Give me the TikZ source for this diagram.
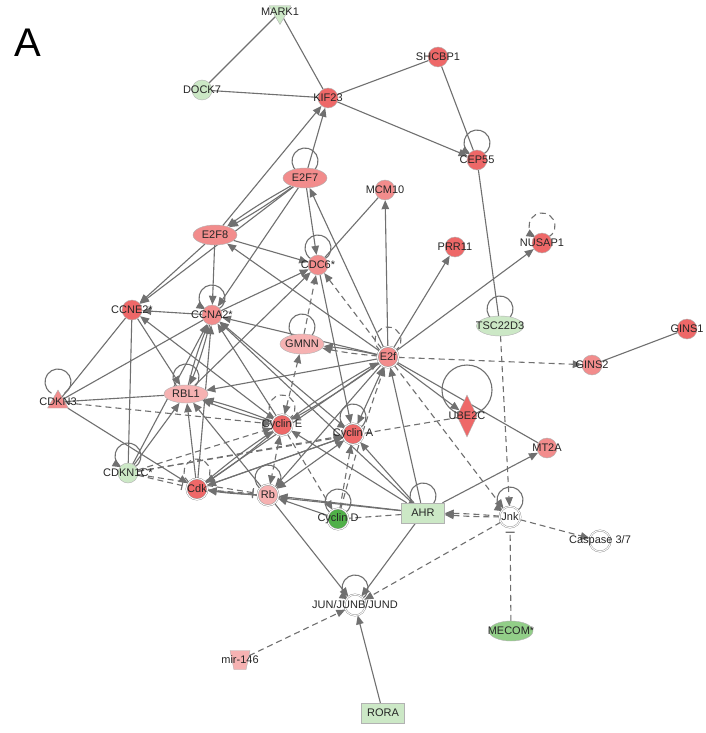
\documentclass[tikz,border=0pt]{standalone}
\usepackage{fontspec}
\setmainfont{Liberation Sans}
\usetikzlibrary{arrows.meta,shapes.geometric,backgrounds}
\definecolor{rouge}{RGB}{238,104,104}
\definecolor{rougeclair}{RGB}{242,140,140}
\definecolor{rose}{RGB}{246,178,178}
\definecolor{vertpale}{RGB}{204,232,198}
\definecolor{vertmoy}{RGB}{146,206,136}
\definecolor{vertfonce}{RGB}{80,176,72}
\definecolor{trait}{RGB}{112,112,112}

\tikzset{
 noeud/.style={draw=black!30, line width=0.4pt, inner sep=0pt},
 rond/.style={noeud, circle, minimum size=20pt},
 rond2/.style={rond, minimum size=21pt, draw=black!45, double=white, double distance=1pt},
 ovale/.style={noeud, ellipse, minimum width=44pt, minimum height=20pt},
 boite/.style={noeud, rectangle, minimum width=43pt, minimum height=20pt},
 lab/.style={inner sep=0pt, font=\fontsize{11}{12}\selectfont, text=black!85},
 lien/.style={draw=trait, line width=1.1pt},
 pointille/.style={dash pattern=on 6pt off 4pt},
 inhib/.style={lien, -{Bar[width=9pt]}, shorten >=4pt},
}

\begin{document}
\begin{tikzpicture}[x=1pt, y=-1pt, >={Triangle[length=9pt,width=7.5pt]}]
\useasboundingbox (0,0) rectangle (706,733);

\node[font=\fontsize{40}{40}\selectfont] (panneau) at (28,43) {A};

%haut
\node[noeud, regular polygon, regular polygon sides=3, shape border rotate=180, minimum size=25pt, fill=vertpale, label={[lab]center:MARK1}] (MARK1) at (280,12) {};
\node[rond, fill=vertpale, label={[lab]center:DOCK7}] (DOCK7) at (202,90) {};
\node[rond, fill=rouge, label={[lab]center:KIF23}] (KIF23) at (328,98) {};
\node[rond, fill=rouge, label={[lab]center:SHCBP1}] (SHCBP1) at (438,57) {};
\node[rond, fill=rouge, label={[lab]center:CEP55}] (CEP55) at (477,160) {};
\node[ovale, fill=rougeclair, label={[lab]center:E2F7}] (E2F7) at (305,178) {};
\node[rond, fill=rougeclair, label={[lab]center:MCM10}] (MCM10) at (385,190) {};
\node[ovale, fill=rougeclair, label={[lab]center:E2F8}] (E2F8) at (215,235) {};
\node[rond, fill=rougeclair, label={[lab]center:CDC6*}] (CDC6) at (318,265) {};
\node[rond, fill=rouge, label={[lab]center:PRR11}] (PRR11) at (455,247) {};
\node[rond, fill=rouge, label={[lab]center:NUSAP1}] (NUSAP1) at (542,243) {};

%milieu
\node[rond, fill=rouge, label={[lab]center:CCNE2*}] (CCNE2) at (132,310) {};
\node[rond, fill=rougeclair, label={[lab]center:CCNA2*}] (CCNA2) at (212,315) {};
\node[ovale, minimum width=47pt, fill=vertpale, label={[lab]center:TSC22D3}] (TSC22D3) at (500,326) {};
\node[rond, fill=rouge, label={[lab]center:GINS1}] (GINS1) at (687,329) {};
\node[ovale, fill=rose, label={[lab]center:GMNN}] (GMNN) at (302,344) {};
\node[rond2, fill=rougeclair, label={[lab]center:E2f}] (E2f) at (388,357) {};
\node[rond, fill=rougeclair, label={[lab]center:GINS2}] (GINS2) at (592,365) {};
\node[noeud, regular polygon, regular polygon sides=3, minimum size=24pt, fill=rougeclair, label={[lab]center:CDKN3}] (CDKN3) at (58,402) {};
\node[ovale, minimum height=18pt, fill=rose, label={[lab]center:RBL1}] (RBL1) at (186,394) {};
\node[noeud, diamond, aspect=0.5, minimum width=20pt, minimum height=42pt, fill=rouge, label={[lab]center:UBE2C}] (UBE2C) at (467,416) {};
\node[rond2, fill=rouge, label={[lab]center:Cyclin E}] (CycE) at (282,425) {};
\node[rond2, fill=rouge, label={[lab]center:Cyclin A}] (CycA) at (353,434) {};
\node[rond, fill=rougeclair, label={[lab]center:MT2A}] (MT2A) at (547,448) {};

%bas
\node[rond, fill=vertpale, label={[lab]center:CDKN1C*}] (CDKN1C) at (128,473) {};
\node[rond2, fill=rouge, label={[lab]center:Cdk}] (Cdk) at (197,489) {};
\node[rond2, fill=rose, label={[lab]center:Rb}] (Rb) at (268,495) {};
\node[rond2, fill=vertfonce, label={[lab]center:Cyclin D}] (CycD) at (338,519) {};
\node[boite, fill=vertpale, label={[lab]center:AHR}] (AHR) at (423,513) {};
\node[rond2, fill=white, label={[lab]center:Jnk}] (Jnk) at (510,517) {};
\node[rond2, fill=white, label={[lab]center:Caspase 3/7}] (Casp) at (600,541) {};
\node[rond2, fill=white, label={[lab]center:JUN/JUNB/JUND}] (JUN) at (355,605) {};
\node[ovale, fill=vertmoy, label={[lab]center:MECOM*}] (MECOM) at (511,631) {};
\node[noeud, inner sep=2pt, trapezium, trapezium angle=72, shape border rotate=180, trapezium stretches=true, minimum width=20pt, minimum height=19pt, fill=rose, label={[lab]center:mir-146}] (mir) at (240,660) {};
\node[boite, fill=vertpale, label={[lab]center:RORA}] (RORA) at (383,713) {};

\begin{scope}[on background layer]
\fill[white] (0,0) rectangle (706,733);

%boucles
\draw[lien,->] ([shift={(-60:13pt)},yshift=17pt]CEP55.center) arc[start angle=-60, end angle=240, radius=13pt];
\draw[lien] ([shift={(-60:13pt)},yshift=17pt]E2F7.center) arc[start angle=-60, end angle=240, radius=13pt];
\draw[lien,pointille,->] ([shift={(-60:13pt)},yshift=17pt]NUSAP1.center) arc[start angle=-60, end angle=240, radius=13pt];
\draw[lien] ([shift={(-60:13pt)},yshift=17pt]CDC6.center) arc[start angle=-60, end angle=240, radius=13pt];
\draw[lien,->] ([shift={(-60:13pt)},yshift=17pt]CCNA2.center) arc[start angle=-60, end angle=240, radius=13pt];
\draw[lien] ([shift={(-60:13pt)},yshift=17pt]GMNN.center) arc[start angle=-60, end angle=240, radius=13pt];
\draw[lien,pointille] ([shift={(-60:13pt)},yshift=17pt]E2f.center) arc[start angle=-60, end angle=240, radius=13pt];
\draw[lien] ([shift={(-60:13pt)},yshift=20pt]CDKN3.center) arc[start angle=-60, end angle=240, radius=13pt];
\draw[lien] ([shift={(-60:13pt)},yshift=17pt]RBL1.center) arc[start angle=-60, end angle=240, radius=13pt];
\draw[lien] ([yshift=26pt]UBE2C.center) circle (25pt);
\draw[lien,pointille,->] ([shift={(-60:13pt)},yshift=17pt]CycE.center) arc[start angle=-60, end angle=240, radius=13pt];
\draw[lien,->] ([shift={(-60:13pt)},yshift=17pt]CycA.center) arc[start angle=-60, end angle=240, radius=13pt];
\draw[lien,->] ([shift={(-60:13pt)},yshift=17pt]CDKN1C.center) arc[start angle=-60, end angle=240, radius=13pt];
\draw[lien,pointille] ([shift={(-60:13pt)},yshift=17pt]Cdk.center) arc[start angle=-60, end angle=240, radius=13pt];
\draw[lien] ([shift={(-60:13pt)},yshift=17pt]Rb.center) arc[start angle=-60, end angle=240, radius=13pt];
\draw[lien] ([shift={(-60:13pt)},yshift=17pt]CycD.center) arc[start angle=-60, end angle=240, radius=13pt];
\draw[lien,->] ([shift={(-60:13pt)},yshift=17pt]AHR.center) arc[start angle=-60, end angle=240, radius=13pt];
\draw[lien,->] ([shift={(-60:13pt)},yshift=17pt]Jnk.center) arc[start angle=-60, end angle=240, radius=13pt];
\draw[lien,->] ([shift={(-60:13pt)},yshift=17pt]JUN.center) arc[start angle=-60, end angle=240, radius=13pt];
\draw[lien] ([shift={(-60:13pt)},yshift=17pt]TSC22D3.center) arc[start angle=-60, end angle=240, radius=13pt];

%haut
\draw[lien] (MARK1) -- (DOCK7);
\draw[lien] (MARK1) -- (KIF23);
\draw[lien] (DOCK7) -- (KIF23);
\draw[lien] (KIF23) -- (SHCBP1);
\draw[lien,->] (KIF23) -- (CEP55);
\draw[lien] (SHCBP1) -- (CEP55);
\draw[lien] (CEP55) -- (TSC22D3);
\draw[lien,->] (E2F7) -- (KIF23);
\draw[lien,->] (E2F8) -- (KIF23);
\draw[lien,->] (E2F7) to[bend left=3] (E2F8);
\draw[lien,->] (E2F7) to[bend right=3] (E2F8);
\draw[lien,->] (E2F7) -- (CCNE2);
\draw[lien,->] (E2F8) -- (CCNE2);
\draw[lien,->] (E2F8) -- (CCNA2);
\draw[lien,->] (E2F8) -- (CDC6);
\draw[lien,->] (E2F7) -- (CDC6);
\draw[lien,->] (E2F7) -- (CCNA2);
\draw[lien,->] (E2f) -- (E2F7);
\draw[lien,->] (E2f) -- (E2F8);
\draw[lien,->] (E2f) -- (MCM10);
\draw[lien] (MCM10) -- (CDC6);
\draw[lien,->] (E2f) -- (PRR11);
\draw[lien,->] (E2f) -- (NUSAP1);
\draw[lien,pointille,->] (E2f) -- (CDC6);
\draw[lien,pointille,->] (GMNN) -- (CDC6);
\draw[lien,->] (CCNA2) -- (CDC6);
\draw[lien,->] (RBL1) -- (CDC6);
\draw[lien,->] (CDC6) -- (CycA);

%milieu
\draw[lien,->] (E2f) to[bend right=3] (GMNN);
\draw[lien,pointille,->] (E2f) to[bend left=3] (GMNN);
\draw[lien,->] (E2f) -- (CCNA2);
\draw[lien,->] (CCNA2) -- (CCNE2);
\draw[lien,->] (CCNE2) -- (RBL1);
\draw[lien] (CDKN3) -- (CCNE2);
\draw[lien] (CDKN3) -- (CCNA2);
\draw[lien] (CDKN3) -- (RBL1);
\draw[lien,->] (CDKN3) -- (Cdk);
\draw[lien,pointille,->] (CDKN3) -- (CycE);
\draw[lien] (CCNE2) -- (CDKN1C);
\draw[lien,->] (CycE) -- (CCNE2);
\draw[lien,->] (RBL1) to[bend left=4] (CCNA2);
\draw[lien,->] (CCNA2) to[bend left=4] (RBL1);
\draw[lien,->] (CDKN1C) -- (CCNA2);
\draw[lien,->] (CDKN1C) -- (RBL1);
\draw[lien,->] (Cdk) -- (RBL1);
\draw[lien,->] (Rb) -- (RBL1);
\draw[lien,->] (CycE) to[bend left=3] (RBL1);
\draw[lien,->] (CycE) to[bend right=3] (RBL1);
\draw[lien,->] (E2f) -- (RBL1);
\draw[lien,->] (CycE) -- (CCNA2);
\draw[lien,->] (CycA) -- (CCNA2);
\draw[lien,->] (Cdk) -- (CCNA2);
\draw[lien,->] (AHR) -- (CCNA2);
\draw[lien,->] (E2f) -- (UBE2C);
\draw[lien] (E2f) -- (MT2A);
\draw[lien,->] (AHR) -- (MT2A);
\draw[lien,pointille,->] (E2f) -- (GINS2);
\draw[lien] (GINS2) -- (GINS1);
\draw[lien,pointille,<->] (CycE) -- (GMNN);

%cyclines
\draw[lien,<->,pointille] (CycE) -- (Rb);
\draw[lien,->] (CycE) to[bend left=3] (Cdk);
\draw[lien,->] (Cdk) to[bend left=3] (CycE);
\draw[lien,->] (CycA) -- (Cdk);
\draw[lien,<->] (CycA) -- (Rb);
\draw[lien,->] (E2f) to[bend left=3] (CycE);
\draw[lien,->] (CycE) to[bend left=3] (E2f);
\draw[lien,<->] (E2f) -- (CycA);
\draw[lien,pointille,->] (CycD) to[bend left=2] (E2f);
\draw[lien,pointille,->] (CycD) -- (CycA);
\draw[lien,pointille,->] (CycE) -- (CycD);
\draw[lien,->] (CycD) -- (Rb);
\draw[inhib,pointille] (Cdk) -- (Rb);
\draw[lien,->] (Rb) to[bend left=3] (Cdk);
\draw[inhib,pointille] (CDKN1C) -- (Cdk);
\draw[inhib,pointille] (CDKN1C) -- (Rb);
\draw[lien,pointille,->] (CDKN1C) -- (CycE);
\draw[lien,pointille,->] (CDKN1C) -- (CycA);
\draw[lien,pointille] (CDKN1C) -- (UBE2C);
\draw[lien,->] (Cdk) -- (CycA);
\draw[lien,->] (E2f) -- (Cdk);
\draw[lien,->] (E2f) -- (Rb);

%bas
\draw[lien,->] (AHR) -- (E2f);
\draw[lien,->] (AHR) -- (CycA);
\draw[lien,->] (AHR) -- (CycE);
\draw[lien,->] (AHR) -- (Rb);
\draw[lien,->] (AHR) -- (Cdk);
\draw[lien,pointille] (AHR) -- (CycD);
\draw[lien,pointille,->] (TSC22D3) -- (Jnk);
\draw[lien,pointille,->] (E2f) -- (Jnk);
\draw[lien,pointille,->] (Jnk) to[bend left=2] (AHR);
\draw[lien,pointille,->] (Jnk) to[bend right=2] (AHR);
\draw[lien,pointille,->] (Jnk) -- (Casp);
\draw[inhib,pointille] (MECOM) -- (Jnk);
\draw[lien,pointille,->] (Jnk) -- (JUN);
\draw[lien,->] (AHR) -- (JUN);
\draw[lien,->] (RORA) -- (JUN);
\draw[lien,pointille,->] (mir) -- (JUN);
\draw[lien,->] (Rb) -- (JUN);
\end{scope}
\end{tikzpicture}
\end{document}
